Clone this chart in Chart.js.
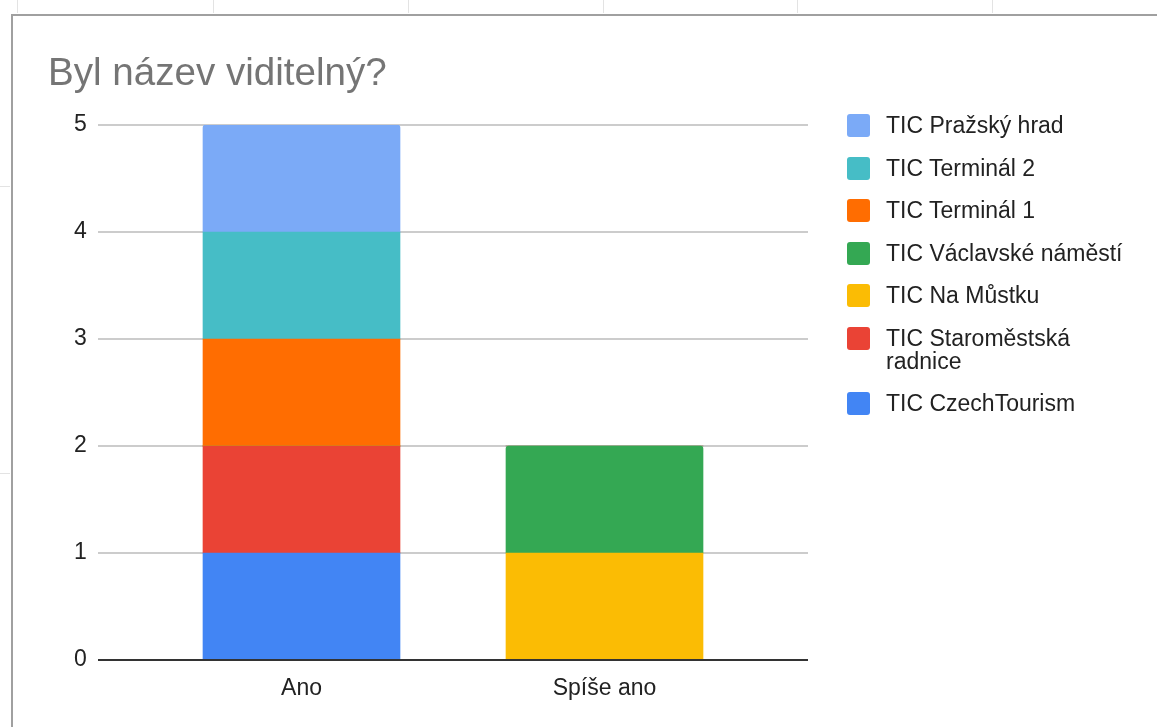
<!DOCTYPE html>
<html lang="cs">
<head>
<meta charset="utf-8">
<title>Byl název viditelný?</title>
<script src="https://cdn.jsdelivr.net/npm/chart.js@4/dist/chart.umd.min.js"></script>
<style>
  html, body { margin: 0; padding: 0; background: #fff; overflow: hidden; }
  body { width: 1157px; height: 727px; position: relative; font-family: "Liberation Sans", Arial, sans-serif; }
  .sheet-v { position: absolute; top: 0; width: 1px; height: 13px; background: #e3e3e3; }
  .sheet-h { position: absolute; left: 0; width: 10px; height: 1px; background: #e3e3e3; }
  #frame { position: absolute; left: 11px; top: 14px; right: -10px; bottom: -10px; border-left: 2px solid #a0a0a0; border-top: 2px solid #a0a0a0; }
  #chart-box { position: absolute; left: 0; top: 0; width: 1157px; height: 727px; }
  #chart-title { position: absolute; left: 48px; top: 53px; font-size: 38.6px; line-height: 38px; color: #757575; white-space: nowrap; }
  #legend { position: absolute; left: 847px; top: 114px; margin: 0; padding: 0; list-style: none; }
  #legend li { position: relative; padding-left: 39px; margin-bottom: 19.5px; font-size: 23px; line-height: 23px; color: #222; width: 230px; }
  #legend li.wide { width: 280px; }
  #legend .swatch { position: absolute; left: 0; top: 0; width: 23px; height: 23px; border-radius: 3px; }
</style>
</head>
<body>
<div class="sheet-v" style="left:17px"></div>
<div class="sheet-v" style="left:213px"></div>
<div class="sheet-v" style="left:408px"></div>
<div class="sheet-v" style="left:603px"></div>
<div class="sheet-v" style="left:797px"></div>
<div class="sheet-v" style="left:992px"></div>
<div class="sheet-h" style="top:186px"></div>
<div class="sheet-h" style="top:473px"></div>
<div id="frame"></div>
<div id="chart-box"><canvas id="chart"></canvas></div>
<div id="chart-title">Byl název viditelný?</div>
<ul id="legend"></ul>
<script>
  const categories = ["Ano", "Spíše ano"];
  const yTicks = [0, 1, 2, 3, 4, 5];

  // stacked bottom to top
  const czechTourism = [1, 0];
  const staromestskaRadnice = [1, 0];
  const naMustku = [0, 1];
  const vaclavskeNamesti = [0, 1];
  const terminal1 = [1, 0];
  const terminal2 = [1, 0];
  const prazskyHrad = [1, 0];

  const seriesNames = [
    "TIC CzechTourism",
    "TIC Staroměstská radnice",
    "TIC Na Můstku",
    "TIC Václavské náměstí",
    "TIC Terminál 1",
    "TIC Terminál 2",
    "TIC Pražský hrad"
  ];
  const seriesValues = [czechTourism, staromestskaRadnice, naMustku, vaclavskeNamesti, terminal1, terminal2, prazskyHrad];
  const seriesColors = ["#4285F4", "#EA4335", "#FBBC04", "#34A853", "#FF6D01", "#46BDC6", "#7BAAF7"];
  const roundedTop = ["TIC Václavské náměstí", "TIC Pražský hrad"];

  // gridlines run wider than the category band, like the sheets chart
  const gridLeft = 98, gridRight = 808;
  function hLine(c, py, color) {
    c.strokeStyle = color;
    c.lineWidth = 2;
    c.beginPath();
    c.moveTo(gridLeft, py);
    c.lineTo(gridRight, py);
    c.stroke();
  }
  const wideGrid = {
    id: "wideGrid",
    beforeDatasetsDraw(chart) {
      const y = chart.scales.y;
      const c = chart.ctx;
      c.save();
      y.ticks.forEach(t => {
        hLine(c, Math.round(y.getPixelForValue(t.value)), t.value === 0 ? "#333333" : "#cccccc");
      });
      c.restore();
    },
    afterDatasetsDraw(chart) {
      // zero line sits on top of the bars
      const y = chart.scales.y;
      const c = chart.ctx;
      c.save();
      hLine(c, Math.round(y.getPixelForValue(0)), "#333333");
      c.restore();
    }
  };

  const datasets = seriesNames.map((name, i) => ({
    label: name,
    data: seriesValues[i],
    backgroundColor: seriesColors[i],
    borderWidth: 0,
    borderRadius: roundedTop.includes(name) ? { topLeft: 3, topRight: 3, bottomLeft: 0, bottomRight: 0 } : 0,
    borderSkipped: false,
    barThickness: 197
  }));

  new Chart(document.getElementById("chart"), {
    type: "bar",
    data: { labels: categories, datasets: datasets },
    plugins: [wideGrid],
    options: {
      responsive: true,
      maintainAspectRatio: false,
      animation: false,
      layout: { padding: { top: 125, right: 401, left: 74, bottom: 0 } },
      plugins: { legend: { display: false }, title: { display: false }, tooltip: { enabled: false } },
      scales: {
        x: {
          stacked: true,
          afterFit: (scale) => { scale.height = 67; },
          grid: { display: false, drawTicks: false },
          border: { display: false },
          ticks: {
            color: "#222",
            padding: 15,
            font: { family: "Liberation Sans", size: 23 },
            maxRotation: 0
          }
        },
        y: {
          stacked: true,
          min: yTicks[0],
          max: yTicks[yTicks.length - 1],
          afterBuildTicks: (scale) => { scale.ticks = yTicks.map(v => ({ value: v })); },
          afterFit: (scale) => { scale.width = 76; },
          grid: { display: false, drawTicks: false },
          border: { display: false },
          ticks: {
            color: "#222",
            padding: 11,
            crossAlign: "far",
            font: { family: "Liberation Sans", size: 23 }
          }
        }
      }
    }
  });

  const legend = document.getElementById("legend");
  for (let i = seriesNames.length - 1; i >= 0; i--) {
    const li = document.createElement("li");
    if (seriesNames[i] === "TIC Václavské náměstí") li.className = "wide";
    const sw = document.createElement("span");
    sw.className = "swatch";
    sw.style.background = seriesColors[i];
    li.appendChild(sw);
    li.appendChild(document.createTextNode(seriesNames[i]));
    legend.appendChild(li);
  }
</script>
</body>
</html>
